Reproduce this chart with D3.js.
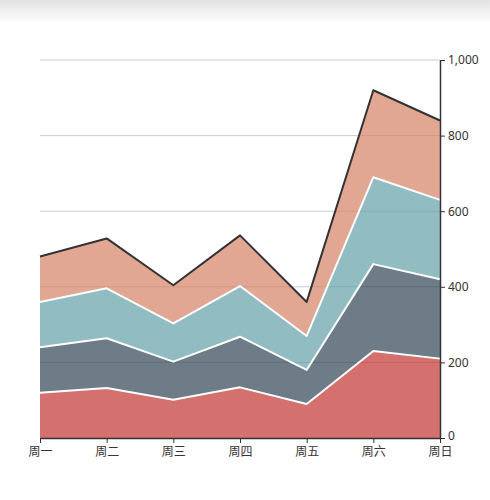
<!DOCTYPE html>
<html>
<head>
<meta charset="utf-8">
<script src="https://cdn.jsdelivr.net/npm/d3@7"></script>
<style>
  body { margin: 0; background: #fff; }
  svg { display: block; font-family: "Noto Sans CJK SC", "Microsoft YaHei", sans-serif; }
</style>
</head>
<body>
<script>
// data
const days = ["周一", "周二", "周三", "周四", "周五", "周六", "周日"]
const seriesA = [120, 132, 101, 134, 90, 230, 210]
const seriesB = [120, 132, 101, 134, 90, 230, 210]
const seriesC = [120, 132, 101, 134, 90, 230, 210]
const seriesD = [120, 132, 101, 134, 90, 230, 210]
const yTicks = [0, 200, 400, 600, 800, 1000]
const colors = ["#c23531", "#2f4554", "#61a0a8", "#d48265"]

const W = 490, H = 500
const plotLeft = 40, plotRight = 440, plotTop = 60, plotBottom = 438

const svg = d3.select("body").append("svg")
    .attr("width", W)
    .attr("height", H)

// soft shadow at the top of the page
const defs = svg.append("defs")
const grad = defs.append("linearGradient")
    .attr("id", "topshade")
    .attr("x1", 0).attr("y1", 0).attr("x2", 0).attr("y2", 1)
grad.append("stop").attr("offset", "0%").attr("stop-color", "#e2e2e2")
grad.append("stop").attr("offset", "100%").attr("stop-color", "#ffffff")
svg.append("rect")
    .attr("x", 0).attr("y", 0)
    .attr("width", W).attr("height", 24)
    .attr("fill", "url(#topshade)")

const x = d3.scalePoint()
    .domain(days)
    .range([plotLeft, plotRight])

const y = d3.scaleLinear()
    .domain([0, 1000])
    .range([plotBottom, plotTop])

// grid lines
svg.append("g")
    .selectAll("line")
    .data(yTicks.filter(d => d > 0))
    .enter().append("line")
    .attr("x1", plotLeft)
    .attr("x2", plotRight)
    .attr("y1", d => y(d))
    .attr("y2", d => y(d))
    .attr("stroke", "#ccc")
    .attr("stroke-width", 1)

// stack the four series
const rows = days.map((d, i) => ({ day: d, a: seriesA[i], b: seriesB[i], c: seriesC[i], d: seriesD[i] }))
const stacked = d3.stack().keys(["a", "b", "c", "d"])(rows)

const area = d3.area()
    .x(d => x(d.data.day))
    .y0(d => y(d[0]))
    .y1(d => y(d[1]))

const line = d3.line()
    .x(d => x(d.data.day))
    .y(d => y(d[1]))

svg.append("g")
    .selectAll("path")
    .data(stacked)
    .enter().append("path")
    .attr("d", area)
    .attr("fill", (d, i) => colors[i])
    .attr("fill-opacity", 0.7)

svg.append("g")
    .selectAll("path")
    .data(stacked)
    .enter().append("path")
    .attr("d", line)
    .attr("fill", "none")
    .attr("stroke", (d, i) => i === 3 ? "#333" : "#fff")
    .attr("stroke-width", 2)
    .attr("stroke-linejoin", "round")

// x axis
const xAxis = svg.append("g")
    .attr("transform", `translate(0,${plotBottom})`)
    .call(d3.axisBottom(x).tickSize(5).tickSizeOuter(0).tickPadding(4))
xAxis.select(".domain").attr("stroke", "#333").attr("stroke-width", 1.5)
xAxis.selectAll(".tick line").attr("stroke", "#333")
xAxis.selectAll("text").attr("fill", "#333").attr("font-size", 12)
    .attr("font-family", "'Noto Sans CJK SC', sans-serif")

// y axis on the right
const yAxis = svg.append("g")
    .attr("transform", `translate(${plotRight},0)`)
    .call(d3.axisRight(y).tickValues(yTicks).tickFormat(d3.format(",")).tickSize(5).tickSizeOuter(0).tickPadding(3))
yAxis.select(".domain").attr("stroke", "#333").attr("stroke-width", 1.5)
yAxis.selectAll(".tick line").attr("stroke", "#333")
yAxis.selectAll("text").attr("fill", "#333").attr("font-size", 12)
    .attr("font-family", "'Noto Sans', sans-serif")
    .attr("dy", d => d === 0 ? "0.1em" : "0.32em")
</script>
</body>
</html>
